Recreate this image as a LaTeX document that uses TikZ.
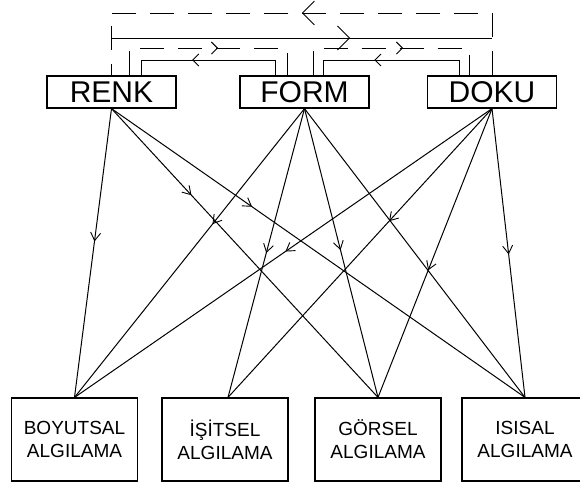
\documentclass[tikz,border=0pt]{standalone}
\usepackage{fontspec}
\setmainfont{Liberation Sans}
\usetikzlibrary{arrows.meta,decorations.markings}
\begin{document}
\begin{tikzpicture}[x=1pt,y=-1pt,
  topbox/.style={draw,line width=1.2pt,minimum width=129pt,minimum height=32pt,inner sep=0pt,font=\fontsize{30}{30}\selectfont},
  botbox/.style={draw,line width=1.2pt,minimum width=126pt,minimum height=83pt,inner sep=0pt,align=center,font=\fontsize{19}{23}\selectfont},
  conn/.style={line width=1pt},
  dashconn/.style={line width=1pt,dash pattern=on 24pt off 14pt},
  midarr/.style={postaction={decorate,decoration={markings,mark=at position #1 with {\arrow[line width=0.9pt]{Straight Barb[length=8pt,width=10pt]}}}}},
  bigarr/.style={postaction={decorate,decoration={markings,mark=at position #1 with {\arrow[line width=0.9pt]{Straight Barb[length=12pt,width=24pt]}}}}},
  smallarr/.style={postaction={decorate,decoration={markings,mark=at position #1 with {\arrow[line width=0.9pt]{Straight Barb[length=6pt,width=12pt]}}}}}
]
\useasboundingbox[fill=white] (0,0) rectangle (580,483);

% top boxes
\node[topbox] (renk) at (111.5,92) {RENK};
\node[topbox] (form) at (304.5,92) {FORM};
\node[topbox] (doku) at (492,92) {DOKU};

% bottom boxes
\node[botbox] (boy) at (74.5,439.5) {BOYUTSAL\\ALGILAMA};
\node[botbox] (isit) at (225,439.5) {İŞİTSEL\\ALGILAMA};
\node[botbox] (gor) at (378,439.5) {GÖRSEL\\ALGILAMA};
\node[botbox] (isis) at (525,439.5) {ISISAL\\ALGILAMA};

% top feedback connectors
\draw[dashconn,bigarr=0.5] (doku.north) -- (doku.north |- 0,13) -- (renk.north |- 0,13) -- (renk.north);
\draw[conn,bigarr=0.627] (renk.north |- 0,38) -- (doku.north |- 0,38);
\draw[dashconn,smallarr=0.546] ([xshift=18pt]renk.north) -- ([xshift=18pt]renk.north |- 0,48) -- ([xshift=-17.5pt]form.north |- 0,48) -- ([xshift=-17.5pt]form.north);
\draw[dashconn,smallarr=0.557] ([xshift=8.5pt]form.north) -- ([xshift=8.5pt]form.north |- 0,48) -- ([xshift=-23pt]doku.north |- 0,48) -- ([xshift=-23pt]doku.north);
\draw[conn,smallarr=0.596] ([xshift=-29.5pt]form.north) -- ([xshift=-29.5pt]form.north |- 0,60) -- ([xshift=29.5pt]renk.north |- 0,60) -- ([xshift=29.5pt]renk.north);
\draw[conn,smallarr=0.60] ([xshift=-33pt]doku.north) -- ([xshift=-33pt]doku.north |- 0,60) -- ([xshift=18.5pt]form.north |- 0,60) -- ([xshift=18.5pt]form.north);

% main connectors
\draw[conn,midarr=0.46] (renk.south) -- (boy.north);
\draw[conn,midarr=0.30] (renk.south) -- (gor.north);
\draw[conn,midarr=0.34] (renk.south) -- (isis.north);
\draw[conn,midarr=0.40] (form.south) -- (boy.north);
\draw[conn,midarr=0.50] (form.south) -- ([xshift=3pt]isit.north);
\draw[conn,midarr=0.49] (form.south) -- (gor.north);
\draw[conn] (form.south) -- (isis.north);
\draw[conn,midarr=0.495] (doku.south) -- (boy.north);
\draw[conn,midarr=0.39] (doku.south) -- ([xshift=3pt]isit.north);
\draw[conn,midarr=0.56] (doku.south) -- (gor.north);
\draw[conn,midarr=0.505] (doku.south) -- (isis.north);
\end{tikzpicture}
\end{document}
